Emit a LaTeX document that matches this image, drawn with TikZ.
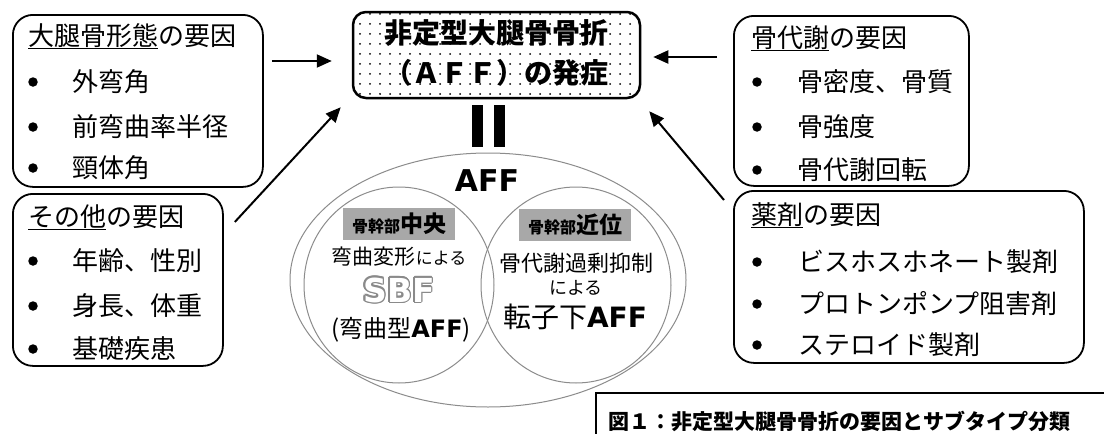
\documentclass[tikz,border=0pt]{standalone}
\usepackage{fontspec}
\setmainfont{Noto Sans CJK JP}
\newfontfamily\latb{DejaVu Sans}
\usetikzlibrary{patterns.meta,arrows.meta,shapes.geometric,calc}
\newcommand\setfs[1]{\fontsize{#1}{#1}\selectfont}
\definecolor{labgray}{HTML}{A8A8A8}
\definecolor{venngray}{HTML}{8C8C8C}
\definecolor{sbfgray}{HTML}{8A8A8A}
\begin{document}
\begin{tikzpicture}[x=1pt,y=-1pt,
  fbox/.style={draw, line width=1.8pt, rounded corners=20pt, anchor=north west, inner sep=0},
  ln/.style={anchor=west, inner sep=0, font=\setfs{26}, text height=22pt, text depth=4pt},
  bul/.style={circle, fill, inner sep=0, minimum size=9.5pt},
  arr/.style={line width=2pt, -{Triangle[length=15pt,width=13pt]}},
  vcirc/.style={draw=venngray, line width=1pt, ellipse, inner sep=0},
  lab/.style={fill=labgray, minimum width=112pt, minimum height=32pt, inner sep=0, font=\bfseries},
  ctext/.style={inner sep=0},
]
\useasboundingbox (0,0) rectangle (1104,434);
\clip (0,0) rectangle (1104,434);
\fill[white] (0,0) rectangle (1104,434);

% ---------- left box 1
\node[fbox, minimum width=250pt, minimum height=172pt] (b1) at (12,14) {};
\node[ln] (b1t) at (28,36) {\underline{大腿骨形態}の要因};
\node[bul] (b1d1) at (33,82) {};  \node[ln] (b1i1) at (72,82) {外弯角};
\node[bul] (b1d2) at (33,127) {}; \node[ln] (b1i2) at (72,127) {前弯曲率半径};
\node[bul] (b1d3) at (33,168) {}; \node[ln] (b1i3) at (72,168) {頸体角};

% ---------- left box 2
\node[fbox, minimum width=210pt, minimum height=172pt] (b2) at (12,193) {};
\node[ln] (b2t) at (28,217) {\underline{その他}の要因};
\node[bul] (b2d1) at (33,261) {}; \node[ln] (b2i1) at (72,261) {年齢、性別};
\node[bul] (b2d2) at (33,306) {}; \node[ln] (b2i2) at (72,306) {身長、体重};
\node[bul] (b2d3) at (33,349) {}; \node[ln] (b2i3) at (72,349) {基礎疾患};

% ---------- right box 1
\node[fbox, minimum width=235pt, minimum height=170pt] (r1) at (733,15) {};
\node[ln] (r1t) at (751,38) {\underline{骨代謝}の要因};
\node[bul] (r1d1) at (757,82) {};  \node[ln] (r1i1) at (797,82) {骨密度、骨質};
\node[bul] (r1d2) at (757,127) {}; \node[ln] (r1i2) at (797,127) {骨強度};
\node[bul] (r1d3) at (757,170) {}; \node[ln] (r1i3) at (797,170) {骨代謝回転};

% ---------- right box 2
\node[fbox, minimum width=350pt, minimum height=172pt] (r2) at (733,190) {};
\node[ln] (r2t) at (751,215) {\underline{薬剤}の要因};
\node[bul] (r2d1) at (757,262) {}; \node[ln] (r2i1) at (798,262) {ビスホスホネート製剤};
\node[bul] (r2d2) at (757,304) {}; \node[ln] (r2i2) at (798,304) {プロトンポンプ阻害剤};
\node[bul] (r2d3) at (757,345) {}; \node[ln] (r2i3) at (798,345) {ステロイド製剤};

% ---------- centre box
\node[draw, line width=2.5pt, rounded corners=13pt, pattern={Dots[distance=10pt,radius=1pt]},
      minimum width=287pt, minimum height=86pt, inner sep=0] (aff) at (496.5,55) {};
\node[ctext, font=\bfseries\setfs{28}] (afft1) at (496.5,33) {非定型大腿骨骨折};
\node[ctext, font=\bfseries\setfs{28}] (afft2) at (496.5,73) {（ＡＦＦ）の発症};

% ---------- equals bars
\node[fill, minimum width=11pt, minimum height=42pt, inner sep=0] (eq1) at (477.5,126) {};
\node[fill, minimum width=11pt, minimum height=42pt, inner sep=0] (eq2) at (499,126) {};

% ---------- Venn
\node[vcirc, minimum width=396pt, minimum height=254pt] (venn) at (488,280) {};
\node[vcirc, minimum width=190pt, minimum height=196pt] (cl) at (399,285) {};
\node[vcirc, minimum width=190pt, minimum height=196pt] (cr) at (576,285) {};
\node[ctext, font=\latb\bfseries\setfs{30}] (vtitle) at (487,181) {AFF};

\node[lab] (labl) at (399,224) {{\setfs{16}骨幹部}{\setfs{23}中央}};
\node[lab] (labr) at (575,225) {{\setfs{16}骨幹部}{\setfs{23}近位}};

\node[ctext] (cl1) at (399,257) {{\setfs{21}弯曲変形}{\setfs{17}による}};
\foreach \a in {0,30,...,330} {
  \node[ctext, text=sbfgray, font=\latb\bfseries\setfs{33}] (sbf\a) at ($(399,290)+(\a:1.5)$) {SBF};
}
\node[ctext, text=white, font=\latb\bfseries\setfs{33}] (sbf) at (399,290) {SBF};
\node[ctext] (cl3) at (401,330) {\setfs{24}(弯曲型{\latb\bfseries AFF})};

\node[ctext] (cr1) at (576,263) {\setfs{22}骨代謝過剰抑制};
\node[ctext] (cr2) at (576,288) {\setfs{18}による};
\node[ctext] (cr3) at (575,317) {{\setfs{28}転子下}{\latb\bfseries\setfs{28}AFF}};

% ---------- arrows
\draw[arr] ($(b1.east |- aff.west)+(8,6)$) -- ($(aff.west)+(-20,6)$);
\draw[arr] ($(b2.north east)+(11,29)$) -- ($(aff.south west)+(-11,8)$);
\draw[arr] ($(r1.west |- aff.east)+(-16,2)$) -- ($(aff.east)+(12,2)$);
\draw[arr] ($(r2.north west)+(-9,10)$) -- ($(aff.south east)+(8,12)$);

% ---------- caption
\node[draw, line width=1.8pt, anchor=north west, minimum width=600pt, minimum height=80pt, inner sep=0] (capbox) at (595,392) {};
\node[anchor=west, inner sep=0, font=\bfseries\setfs{21}] (cap) at (608,421) {図１：非定型大腿骨骨折の要因とサブタイプ分類};
\end{tikzpicture}
\end{document}
